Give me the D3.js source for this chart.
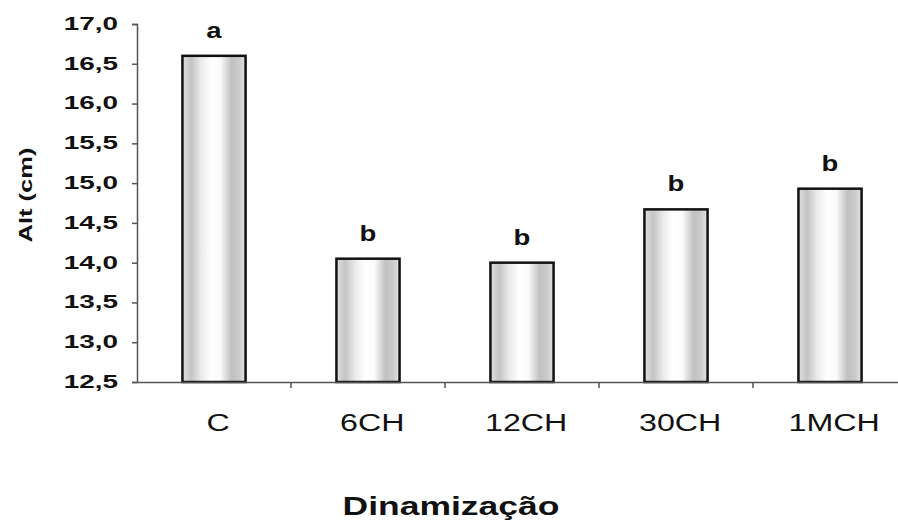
<!DOCTYPE html>
<html>
<head>
<meta charset="utf-8">
<script src="https://cdn.jsdelivr.net/npm/d3@7"></script>
<style>
  body { margin: 0; background: #fff; }
  text { font-family: "Liberation Sans", Arial, sans-serif; fill: #111; }
</style>
</head>
<body>
<svg id="chart"></svg>
<script>
// data
const categories = ["C", "6CH", "12CH", "30CH", "1MCH"];
const heights = [16.6, 14.05, 14.0, 14.67, 14.93];
const letters = ["a", "b", "b", "b", "b"];
const yTicks = [12.5, 13.0, 13.5, 14.0, 14.5, 15.0, 15.5, 16.0, 16.5, 17.0];

const width = 898;
const height = 520;

const svg = d3.select("#chart")
    .attr("width", width)
    .attr("height", height);

// scales
const x = d3.scaleBand()
    .domain(categories)
    .range([137, 907])
    .paddingInner(0.59)
    .paddingOuter(0.295);

const y = d3.scaleLinear()
    .domain([12.5, 17.0])
    .range([382, 24]);

const fmt = d => d3.format(".1f")(d).replace(".", ",");

// bar shading, grey at both sides and white in the middle
const grad = svg.append("defs").append("linearGradient")
    .attr("id", "barShade")
    .attr("x1", "0%").attr("x2", "100%");
[[0, "#e0e0e0"], [0.14, "#c4c4c4"], [0.3, "#ebebeb"], [0.45, "#ffffff"],
 [0.6, "#fbfbfb"], [0.78, "#c0c0c0"], [0.9, "#cbcbcb"], [1, "#e4e4e4"]]
    .forEach(([o, c]) => grad.append("stop").attr("offset", o).attr("stop-color", c));

// y axis
const yAxis = svg.append("g")
    .attr("transform", "translate(137,0)")
    .call(d3.axisLeft(y).tickValues(yTicks).tickFormat(fmt).tickSize(5).tickSizeOuter(5));

yAxis.select(".domain").attr("stroke", "#555").attr("stroke-width", 1.5);
yAxis.selectAll(".tick line").attr("stroke", "#555").attr("stroke-width", 1.5);
yAxis.selectAll(".tick text")
    .attr("x", 0)
    .attr("dy", "0.3em")
    .attr("transform", "translate(-19,0) scale(1.55,1)")
    .style("font-size", "18px")
    .style("font-weight", "bold")
    .style("fill", "#111");

// bars
svg.selectAll(".bar")
    .data(categories)
    .join("rect")
    .attr("class", "bar")
    .attr("x", d => x(d))
    .attr("y", (d, i) => y(heights[i]))
    .attr("width", x.bandwidth())
    .attr("height", (d, i) => y(12.5) - y(heights[i]))
    .attr("fill", "url(#barShade)")
    .attr("stroke", "#111")
    .attr("stroke-width", 2.5);

// x axis
const xAxis = svg.append("g")
    .attr("transform", "translate(0,382)")
    .call(d3.axisBottom(x).tickSize(0).tickSizeOuter(0));

xAxis.select(".domain").attr("stroke", "#555").attr("stroke-width", 1.5);
xAxis.selectAll(".tick text")
    .attr("x", 3)
    .attr("y", 49)
    .attr("dy", 0)
    .attr("transform", "scale(1.4,1)")
    .style("font-size", "23px")
    .style("fill", "#111");

// separator ticks between categories
xAxis.selectAll(".sep")
    .data(categories.slice(1))
    .join("line")
    .attr("class", "sep")
    .attr("x1", d => x(d) - x.paddingInner() * x.step() / 2)
    .attr("x2", d => x(d) - x.paddingInner() * x.step() / 2)
    .attr("y1", 0)
    .attr("y2", 6)
    .attr("stroke", "#555")
    .attr("stroke-width", 1.5);

// significance letters
svg.selectAll(".letter")
    .data(categories)
    .join("text")
    .attr("class", "letter")
    .attr("transform", (d, i) =>
        `translate(${x(d) + x.bandwidth() / 2},${y(heights[i]) - 18}) scale(1.25,1)`)
    .attr("text-anchor", "middle")
    .style("font-size", "22px")
    .style("font-weight", "bold")
    .text((d, i) => letters[i]);

// axis titles
svg.append("text")
    .attr("transform", "translate(32,195) rotate(-90) scale(1.42,1)")
    .attr("text-anchor", "middle")
    .style("font-size", "18px")
    .style("font-weight", "bold")
    .text("Alt (cm)");

svg.append("text")
    .attr("transform", "translate(451,515) scale(1.42,1)")
    .attr("text-anchor", "middle")
    .style("font-size", "25px")
    .style("font-weight", "bold")
    .text("Dinamização");
</script>
</body>
</html>
